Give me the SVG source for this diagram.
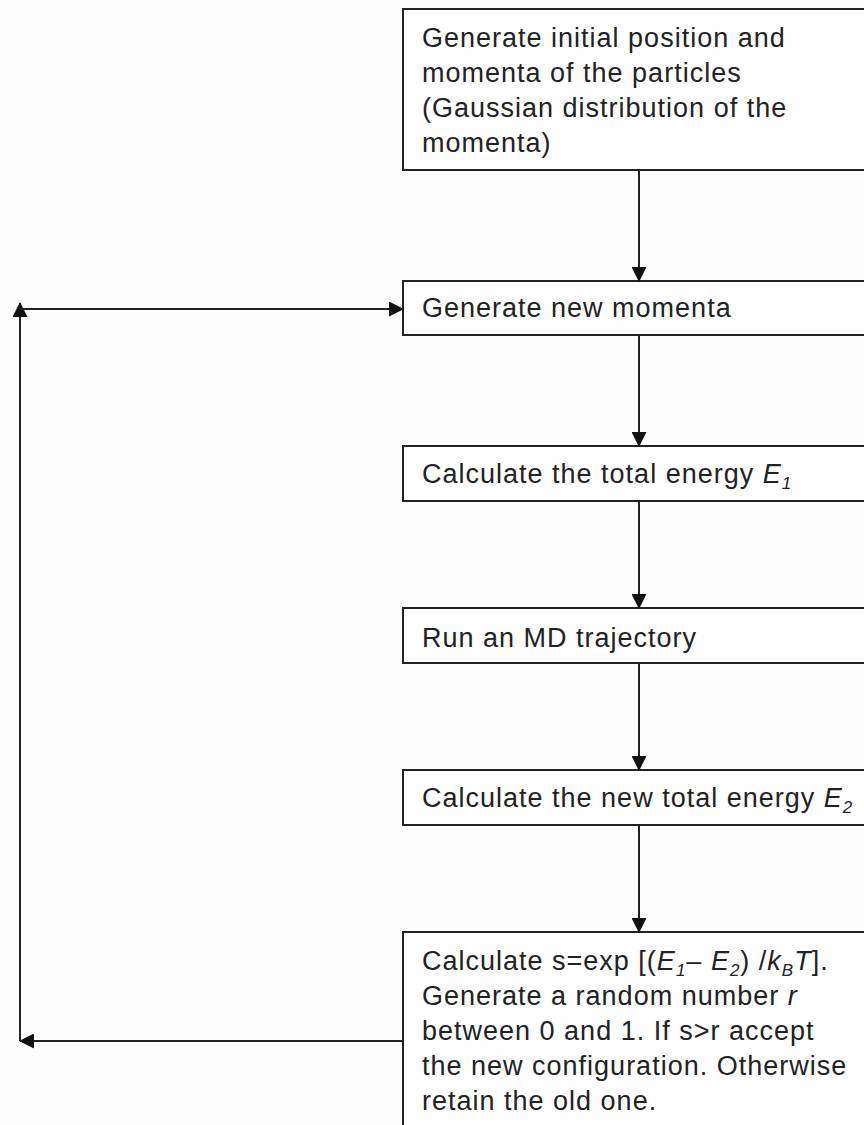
<svg xmlns="http://www.w3.org/2000/svg" width="864" height="1125" viewBox="0 0 864 1125">
<defs>
<style>
.box{fill:#fefefe;stroke:#222;stroke-width:2}
.t{font-family:"Liberation Sans",Arial,sans-serif;font-size:27px;letter-spacing:1px;fill:#222}
.i{font-style:italic}
.s{font-size:17px;font-style:italic}
.ln{stroke:#222;stroke-width:2;fill:none}
</style>
<marker id="ah" markerWidth="15" markerHeight="15" viewBox="0 0 15 15" refX="14" refY="7.5" orient="auto" markerUnits="userSpaceOnUse">
<path d="M0,0 L15,7.5 L0,15 Z" fill="#111"/>
</marker>
</defs>
<rect width="864" height="1125" fill="#fdfdfd"/>
<g id="n1">
<rect class="box" x="403" y="9" width="470" height="161"/>
<text class="t" x="422" y="47">Generate initial position and</text>
<text class="t" x="422" y="82">momenta of the particles</text>
<text class="t" x="422" y="117">(Gaussian distribution of the</text>
<text class="t" x="422" y="152">momenta)</text>
</g>
<g id="n2">
<rect class="box" x="403" y="281" width="470" height="54"/>
<text class="t" x="422" y="317">Generate new momenta</text>
</g>
<g id="n3">
<rect class="box" x="403" y="446" width="470" height="55"/>
<text class="t" x="422" y="483">Calculate the total energy <tspan class="i">E</tspan><tspan class="s" dy="6">1</tspan></text>
</g>
<g id="n4">
<rect class="box" x="403" y="608" width="470" height="55"/>
<text class="t" x="422" y="647">Run an MD trajectory</text>
</g>
<g id="n5">
<rect class="box" x="403" y="770" width="470" height="55"/>
<text class="t" x="422" y="807">Calculate the new total energy <tspan class="i">E</tspan><tspan class="s" dy="6">2</tspan></text>
</g>
<g id="n6">
<rect class="box" x="403" y="932" width="470" height="210"/>
<text class="t" x="422" y="970">Calculate s=exp [(<tspan class="i">E</tspan><tspan class="s" dy="6">1</tspan><tspan dy="-6">– </tspan><tspan class="i">E</tspan><tspan class="s" dy="6">2</tspan><tspan dy="-6">) /</tspan><tspan class="i">k</tspan><tspan class="s" dy="6">B</tspan><tspan class="i" dy="-6">T</tspan>].</text>
<text class="t" x="422" y="1005">Generate a random number <tspan class="i">r</tspan></text>
<text class="t" x="422" y="1040">between 0 and 1. If s&gt;r accept</text>
<text class="t" x="422" y="1075">the new configuration. Otherwise</text>
<text class="t" x="422" y="1110">retain the old one.</text>
</g>
<g id="connectors">
<line class="ln" x1="639" y1="170" x2="639" y2="281" marker-end="url(#ah)"/>
<line class="ln" x1="639" y1="335" x2="639" y2="446" marker-end="url(#ah)"/>
<line class="ln" x1="639" y1="501" x2="639" y2="608" marker-end="url(#ah)"/>
<line class="ln" x1="639" y1="663" x2="639" y2="770" marker-end="url(#ah)"/>
<line class="ln" x1="639" y1="825" x2="639" y2="932" marker-end="url(#ah)"/>
<line class="ln" x1="403" y1="1041" x2="20" y2="1041" marker-end="url(#ah)"/>
<line class="ln" x1="20" y1="1041" x2="20" y2="303" marker-end="url(#ah)"/>
<line class="ln" x1="20" y1="309" x2="403" y2="309" marker-end="url(#ah)"/>
</g>
</svg>
